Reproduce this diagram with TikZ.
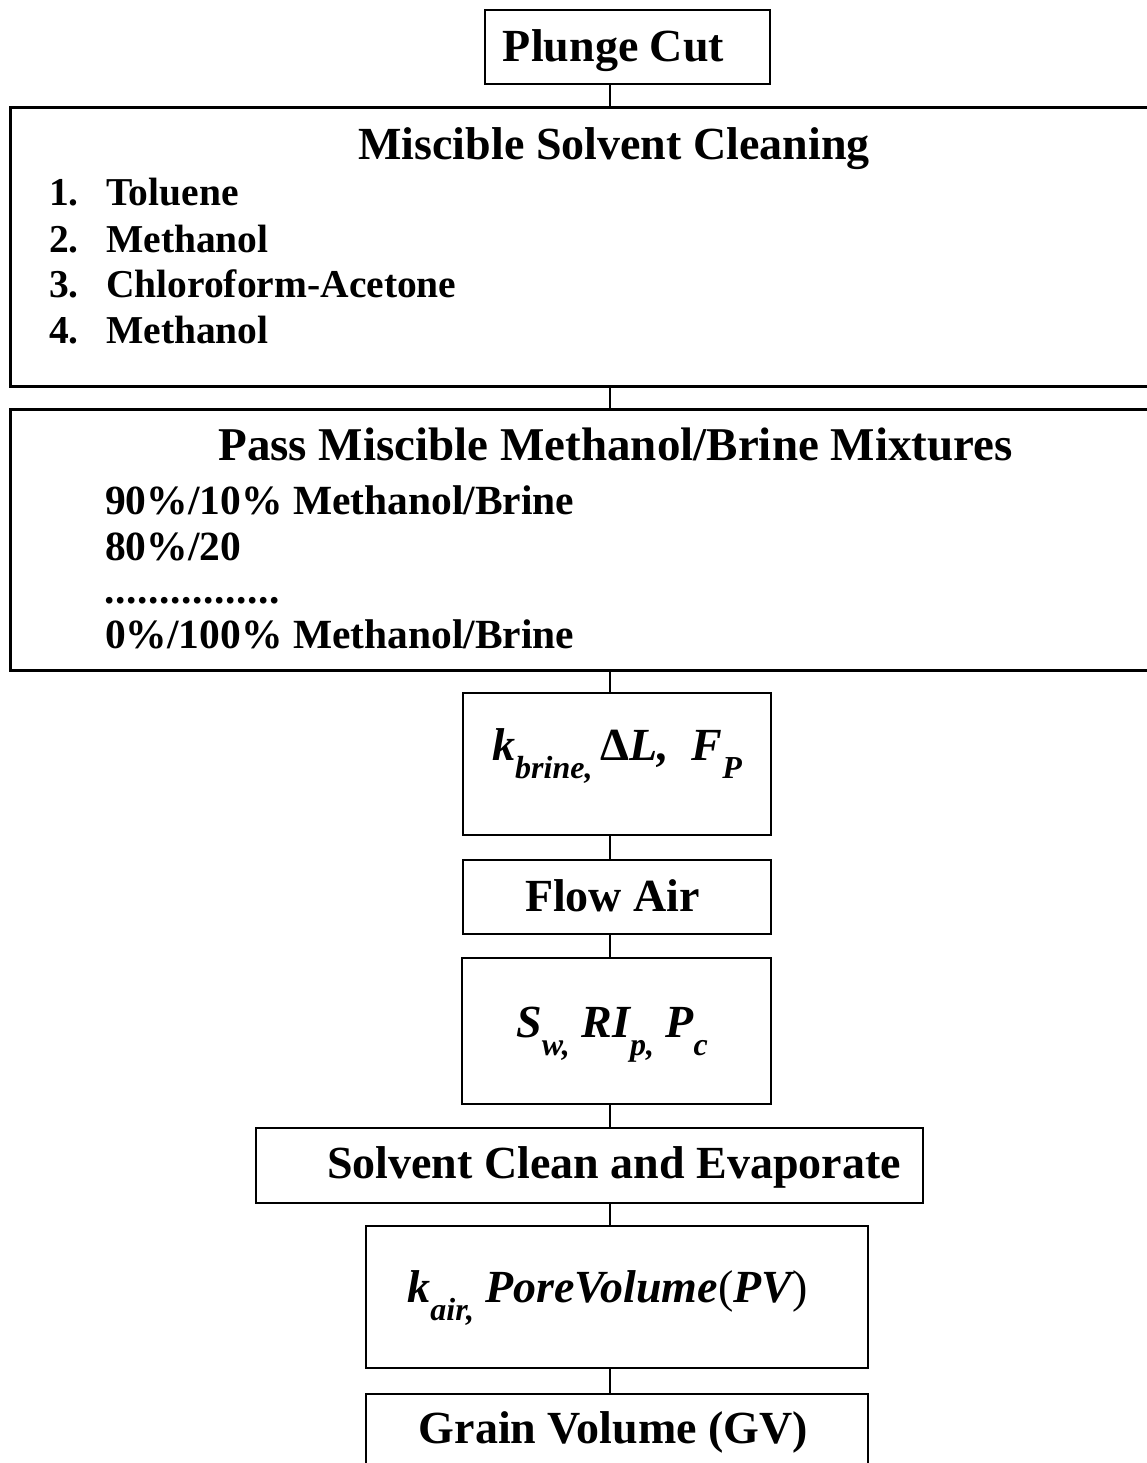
\documentclass[tikz,border=0pt]{standalone}
\usepackage{fontspec}
\setmainfont{Liberation Serif}
\newcommand\subtxt[1]{\raisebox{-0.4em}{\fontsize{32}{34}\selectfont #1}}
\newcommand\dotrow{\hbox to 176pt{\leaders\hbox to 11pt{\hss.\hss}\hfill}}
\begin{document}
\begin{tikzpicture}[x=1pt,y=-1pt,
  box/.style={draw, line width=2.4pt, rectangle, inner sep=0pt, anchor=north west},
  bigbox/.style={box, line width=2.8pt},
  link/.style={line width=1.6pt},
  ttl/.style={font=\fontsize{46}{50}\selectfont\bfseries, anchor=base, inner sep=0pt},
  itm/.style={font=\fontsize{39.5}{44}\selectfont\bfseries, anchor=base west, inner sep=0pt},
  itmb/.style={itm, font=\fontsize{41.5}{44}\selectfont\bfseries},
  mth/.style={font=\fontsize{46}{50}\selectfont\bfseries\itshape, anchor=base, inner sep=0pt}]
\useasboundingbox (0,0) rectangle (1147,1463);
\clip (0,0) rectangle (1147,1463);
\fill[white] (0,0) rectangle (1147,1463);

% boxes
\node[box, minimum width=285pt, minimum height=74pt] (plunge) at (484,9) {};
\node[bigbox, minimum width=1160pt, minimum height=279pt] (clean) at (9,106) {};
\node[bigbox, minimum width=1160pt, minimum height=261pt] (mix) at (9,408) {};
\node[box, minimum width=308pt, minimum height=142pt] (kbrine) at (462,692) {};
\node[box, minimum width=308pt, minimum height=74pt] (flow) at (462,859) {};
\node[box, minimum width=309pt, minimum height=146pt] (sw) at (461,957) {};
\node[box, minimum width=667pt, minimum height=75pt] (solv) at (255,1127) {};
\node[box, minimum width=502pt, minimum height=142pt] (kair) at (365,1225) {};
\node[box, minimum width=502pt, minimum height=100pt] (grain) at (365,1393) {};

% connectors
\coordinate (spine) at (610,0);
\draw[link] (plunge.south -| spine) -- (clean.north -| spine);
\draw[link] (clean.south -| spine) -- (mix.north -| spine);
\draw[link] (mix.south -| spine) -- (kbrine.north -| spine);
\draw[link] (kbrine.south -| spine) -- (flow.north -| spine);
\draw[link] (flow.south -| spine) -- (sw.north -| spine);
\draw[link] (sw.south -| spine) -- (solv.north -| spine);
\draw[link] (solv.south -| spine) -- (kair.north -| spine);
\draw[link] (kair.south -| spine) -- (grain.north -| spine);

% texts
\node[ttl] (tplunge) at (613.5,62) {Plunge Cut};
\node[ttl] (tclean) at (614,160) {Miscible Solvent Cleaning};
\node[itm] (n1) at (49,206) {1.};
\node[itm] (n2) at (49,252) {2.};
\node[itm] (n3) at (49,297) {3.};
\node[itm] (n4) at (49,343) {4.};
\node[itm] (i1) at (106,206) {Toluene};
\node[itm] (i2) at (106,252) {Methanol};
\node[itm] (i3) at (106,297) {Chloroform-Acetone};
\node[itm] (i4) at (106,343) {Methanol};

\node[ttl, font=\fontsize{47}{50}\selectfont\bfseries] (tmix) at (615.5,460) {Pass Miscible Methanol/Brine Mixtures};
\node[itmb] (m1) at (105,514) {90\%/10\% Methanol/Brine};
\node[itmb] (m2) at (105,560) {80\%/20};
\node[itmb] (m3) at (104,603) {\dotrow};
\node[itmb] (m4) at (105,648) {0\%/100\% Methanol/Brine};

\node[mth] (tkbrine) at (617,760) {k\subtxt{brine,}\,{\upshape Δ}L,\ \ F\subtxt{P}};
\node[ttl] (tflow) at (612.5,911) {Flow Air};
\node[mth] (tsw) at (612,1037) {S\subtxt{w,}\ RI\subtxt{p,}\ P\subtxt{c}};
\node[ttl, anchor=base west] (tsolv) at (327,1178) {Solvent Clean and Evaporate};
\node[mth] (tkair) at (607.5,1302) {k\subtxt{air,}\ PoreVolume{\mdseries\upshape(}PV{\mdseries\upshape)}};
\node[ttl] (tgrain) at (613.5,1443) {Grain Volume (GV)};
\end{tikzpicture}
\end{document}
